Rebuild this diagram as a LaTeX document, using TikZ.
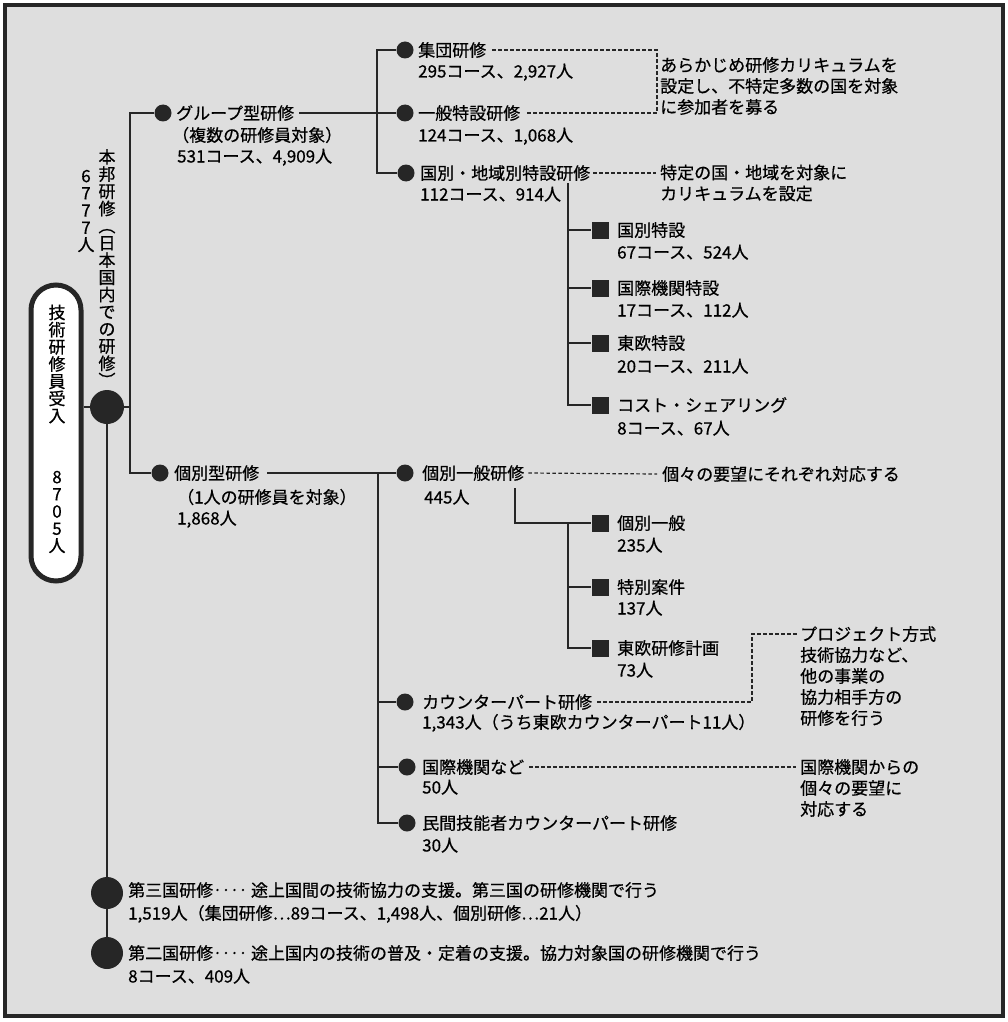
\documentclass[tikz,border=0pt]{standalone}
\usepackage{fontspec}
\setmainfont{Noto Sans CJK JP}[FakeBold=0.6]
\begin{document}
\begin{tikzpicture}[x=1pt,y=-1pt,
  conn/.style={line width=1.4pt, black!85},
  dsh/.style={line width=1.2pt, black!85, dash pattern=on 3.5pt off 2.5pt},
  dot/.style={circle, fill=black!85, minimum size=17pt, inner sep=0pt},
  bigdot/.style={circle, fill=black!85, minimum size=34pt, inner sep=0pt},
  sq/.style={rectangle, fill=black!85, minimum size=17pt, inner sep=0pt},
  lbl/.style={anchor=west, inner sep=0pt, font=\fontsize{17}{21}\selectfont, text height=15pt, text depth=2pt},
  note/.style={anchor=west, inner sep=0pt, align=left, font=\fontsize{17}{21}\selectfont},
  vst/.style={inner sep=0pt, align=center, font=\fontsize{17}{17.2}\selectfont},
  pill/.style={draw=black!85, line width=5pt, fill=white, rounded corners=25pt, minimum width=50pt, minimum height=296pt, inner sep=0pt}
]
\useasboundingbox (0,0) rectangle (1007,1022);
\fill[black!13] (5,5) rectangle (1003,1016);
\draw[line width=3.5pt, black!85] (5,5) rectangle (1003,1016);

% ---- root ----
\node[pill] (P) at (56,433) {};
\node[vst] (Pt1) at (57,364) {技\\術\\研\\修\\員\\受\\入};
\node[vst] (Pt2) at (57,512) {8\\7\\0\\5\\人};
\node[bigdot] (M) at (107,407) {};
\node[vst] (Mt) at (107,268) {本\\邦\\研\\修\\︵\\日\\本\\国\\内\\で\\の\\研\\修\\︶};
\node[vst] (Mn) at (86,211) {6\\7\\7\\7\\人};

% ---- group branch ----
\node[dot] (G) at (163,113) {};
\node[lbl] (G-t) at (176,113) {グループ型研修};
\node[lbl] (G-a) at (172,135) {（複数の研修員対象）};
\node[lbl] (G-n) at (177,156) {531コース、4,909人};

\node[dot] (C1) at (405,50) {};
\node[lbl] (C1-t) at (418,50) {集団研修};
\node[lbl] (C1-n) at (418,71) {295コース、2,927人};
\node[dot] (C2) at (405,113) {};
\node[lbl] (C2-t) at (418,113) {一般特設研修};
\node[lbl] (C2-n) at (418,135) {124コース、1,068人};
\node[dot] (C3) at (406,173) {};
\node[lbl] (C3-t) at (420,173) {国別・地域別特設研修};
\node[lbl] (C3-n) at (420,194) {112コース、914人};

\node[note] (N1) at (660,86) {あらかじめ研修カリキュラムを\\設定し、不特定多数の国を対象\\に参加者を募る};
\node[note] (N2) at (660,183) {特定の国・地域を対象に\\カリキュラムを設定};

\node[sq] (Q1) at (600,230) {};
\node[lbl] (Q1-t) at (617,230) {国別特設};
\node[lbl] (Q1-n) at (617,252) {67コース、524人};
\node[sq] (Q2) at (600,288) {};
\node[lbl] (Q2-t) at (617,288) {国際機関特設};
\node[lbl] (Q2-n) at (617,310) {17コース、112人};
\node[sq] (Q3) at (600,343) {};
\node[lbl] (Q3-t) at (617,343) {東欧特設};
\node[lbl] (Q3-n) at (617,366) {20コース、211人};
\node[sq] (Q4) at (600,405) {};
\node[lbl] (Q4-t) at (617,405) {コスト・シェアリング};
\node[lbl] (Q4-n) at (617,428) {8コース、67人};

% ---- individual branch ----
\node[dot] (K) at (160,473) {};
\node[lbl] (K-t) at (174,473) {個別型研修};
\node[lbl] (K-a) at (177,497) {（1人の研修員を対象）};
\node[lbl] (K-n) at (177,518) {1,868人};

\node[dot] (K1) at (405,473) {};
\node[lbl] (K1-t) at (422,473) {個別一般研修};
\node[lbl] (K1-n) at (424,497) {445人};
\node[lbl] (N3) at (662,474) {個々の要望にそれぞれ対応する};

\node[sq] (R1) at (600,523) {};
\node[lbl] (R1-t) at (617,523) {個別一般};
\node[lbl] (R1-n) at (617,545) {235人};
\node[sq] (R2) at (600,587) {};
\node[lbl] (R2-t) at (617,587) {特別案件};
\node[lbl] (R2-n) at (617,608) {137人};
\node[sq] (R3) at (600,648) {};
\node[lbl] (R3-t) at (617,648) {東欧研修計画};
\node[lbl] (R3-n) at (617,670) {73人};

\node[dot] (K2) at (405,702) {};
\node[lbl] (K2-t) at (422,702) {カウンターパート研修};
\node[lbl] (K2-n) at (422,722) {1,343人（うち東欧カウンターパート11人）};
\node[dot] (K3) at (407,767) {};
\node[lbl] (K3-t) at (422,767) {国際機関など};
\node[lbl] (K3-n) at (422,787) {50人};
\node[dot] (K4) at (407,823) {};
\node[lbl] (K4-t) at (422,823) {民間技能者カウンターパート研修};
\node[lbl] (K4-n) at (422,845) {30人};

\node[note] (N4) at (800,676) {プロジェクト方式\\技術協力など、\\他の事業の\\協力相手方の\\研修を行う};
\node[note] (N5) at (800,788) {国際機関からの\\個々の要望に\\対応する};

% ---- third / second country ----
\node[bigdot, minimum size=32pt] (S3) at (107,893) {};
\node[lbl] (S3-t) at (128,890) {第三国研修‥‥ 途上国間の技術協力の支援。第三国の研修機関で行う};
\node[lbl] (S3-n) at (128,913) {1,519人（集団研修…89コース、1,498人、個別研修…21人）};
\node[bigdot, minimum size=32pt] (S2) at (107,953) {};
\node[lbl] (S2-t) at (128,953) {第二国研修‥‥ 途上国内の技術の普及・定着の支援。協力対象国の研修機関で行う};
\node[lbl] (S2-n) at (128,976) {8コース、409人};

% ---- coordinates ----
\coordinate (jA1) at (130,113);
\coordinate (jA2) at (130,473);
\coordinate (jM) at (130,407);
\coordinate (jB1) at (377,50);
\coordinate (jB3) at (377,173);
\coordinate (jC0) at (568,183);
\coordinate (jD) at (378,473);
\coordinate (jE0) at (515,488);
\coordinate (jE1) at (568,523);
\coordinate (b1a) at (657,50);
\coordinate (b1b) at (657,113);
\coordinate (b2) at (656,173);
\coordinate (b3) at (657,474);
\coordinate (b4a) at (752,702);
\coordinate (b4b) at (752,634);
\coordinate (b4c) at (797,634);
\coordinate (b5) at (796,767);

% ---- connectors ----
\draw[conn] (P.east |- M) -- (M.west);
\draw[conn] (M.east) -- (jM);
\draw[conn] (G.west) -- (jA1) -- (jA2) -- (K.west);
\draw[conn] (M.south) -- (S3.north);
\draw[conn] (S3.south) -- (S2.north);

\draw[conn] ([xshift=5pt]G-t.east) -- (C2.west);
\draw[conn] (C1.west) -- (jB1) -- (jB3) -- (C3.west);
\draw[conn] (jC0) |- (Q1.west);
\draw[conn] (jC0) |- (Q2.west);
\draw[conn] (jC0) |- (Q3.west);
\draw[conn] (jC0) |- (Q4.west);

\draw[conn] ([xshift=8pt]K-t.east) -- (K1.west);
\draw[conn] (jD) |- (K2.west);
\draw[conn] (jD) |- (K3.west);
\draw[conn] (jD) |- (K4.west);
\draw[conn] (jE0) |- (R1.west);
\draw[conn] (jE1) |- (R2.west);
\draw[conn] (jE1) |- (R3.west);

\draw[dsh] ([xshift=6pt]C1-t.east) -- (b1a) -- (b1b) -- ([xshift=6pt]C2-t.east);
\draw[dsh] ([xshift=3pt]C3-t.east) -- (b2);
\draw[dsh] ([xshift=4pt]K1-t.east) -- (b3);
\draw[dsh] ([xshift=5pt]K2-t.east) -- (b4a) -- (b4b) -- (b4c);
\draw[dsh] ([xshift=5pt]K3-t.east) -- (b5);
\end{tikzpicture}
\end{document}
